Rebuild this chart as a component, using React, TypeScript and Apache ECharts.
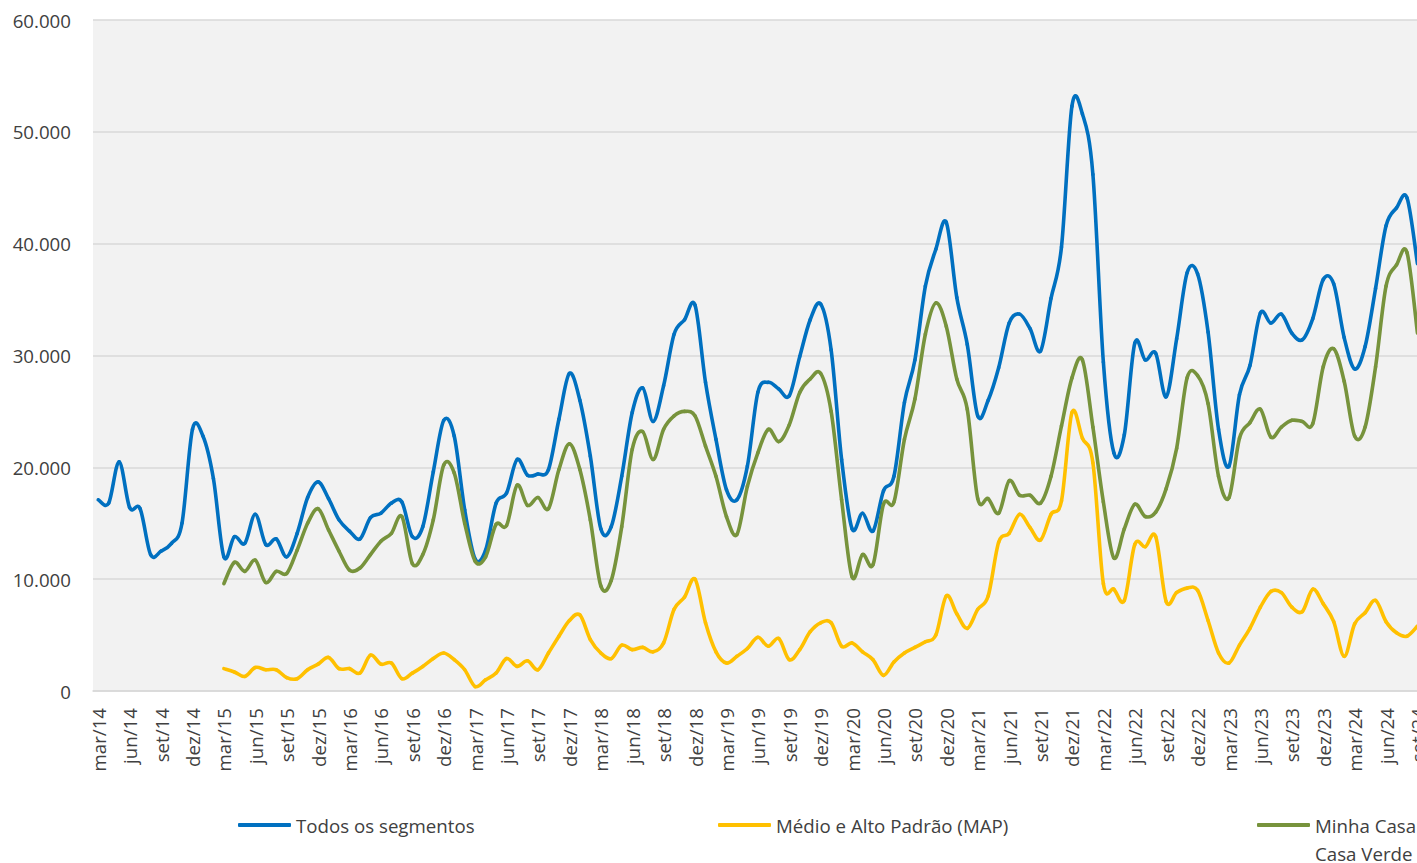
import React, { useEffect, useRef } from "react";
import * as echarts from "echarts";

// Monthly categories (mar/14 .. set/24)
const months: string[] = [
  "mar/14","abr/14","mai/14","jun/14","jul/14","ago/14","set/14","out/14","nov/14","dez/14",
  "jan/15","fev/15","mar/15","abr/15","mai/15","jun/15","jul/15","ago/15","set/15","out/15","nov/15","dez/15",
  "jan/16","fev/16","mar/16","abr/16","mai/16","jun/16","jul/16","ago/16","set/16","out/16","nov/16","dez/16",
  "jan/17","fev/17","mar/17","abr/17","mai/17","jun/17","jul/17","ago/17","set/17","out/17","nov/17","dez/17",
  "jan/18","fev/18","mar/18","abr/18","mai/18","jun/18","jul/18","ago/18","set/18","out/18","nov/18","dez/18",
  "jan/19","fev/19","mar/19","abr/19","mai/19","jun/19","jul/19","ago/19","set/19","out/19","nov/19","dez/19",
  "jan/20","fev/20","mar/20","abr/20","mai/20","jun/20","jul/20","ago/20","set/20","out/20","nov/20","dez/20",
  "jan/21","fev/21","mar/21","abr/21","mai/21","jun/21","jul/21","ago/21","set/21","out/21","nov/21","dez/21",
  "jan/22","fev/22","mar/22","abr/22","mai/22","jun/22","jul/22","ago/22","set/22","out/22","nov/22","dez/22",
  "jan/23","fev/23","mar/23","abr/23","mai/23","jun/23","jul/23","ago/23","set/23","out/23","nov/23","dez/23",
  "jan/24","fev/24","mar/24","abr/24","mai/24","jun/24","jul/24","ago/24","set/24",
];

const seriesNames = [
  "Todos os segmentos",
  "Médio e Alto Padrão (MAP)",
  "Minha Casa Minha Vida / Casa Verde e Amarela",
];

// Todos os segmentos
const todos: (number | null)[] = [
  17100, 16800, 20500, 16400, 16300, 12200, 12500, 13200, 15000, 23400,
  22800, 19000, 12000, 13800, 13200, 15800, 13100, 13600, 12000, 14100, 17300, 18700,
  17200, 15300, 14300, 13600, 15500, 15900, 16800, 16900, 13800, 14700, 19600, 24200,
  22800, 16200, 11800, 12600, 16800, 17700, 20700, 19300, 19400, 19800, 24300, 28400,
  26000, 21000, 14500, 14700, 19200, 24900, 27100, 24100, 27300, 31900, 33200, 34500,
  27600, 22500, 18000, 17100, 20100, 26700, 27600, 27000, 26400, 29900, 33200, 34600,
  30500, 20700, 14500, 15900, 14300, 17900, 19200, 25800, 29600, 36200, 39500, 41900,
  35200, 31000, 24600, 26000, 28900, 32900, 33700, 32400, 30400, 35100, 39700, 52300,
  51600, 46200, 29400, 21300, 22900, 31100, 29600, 30200, 26300, 31500, 37400, 37300,
  32100, 23400, 20100, 26500, 29100, 33800, 32900, 33700, 32000, 31400, 33300, 36800,
  36400, 31600, 28800, 30800, 36000, 41600, 43200, 44100, 38200,
];

// Médio e Alto Padrão (MAP)
const map: (number | null)[] = [
  null, null, null, null, null, null, null, null, null, null,
  null, null, 2000, 1700, 1300, 2100, 1900, 1900, 1200, 1100, 1900, 2400,
  3000, 2000, 2000, 1600, 3200, 2400, 2500, 1100, 1600, 2200, 2900, 3400,
  2800, 1900, 400, 1000, 1600, 2900, 2200, 2700, 1900, 3400, 4900, 6300,
  6800, 4600, 3400, 2900, 4100, 3700, 3900, 3500, 4300, 7300, 8400, 10000,
  6100, 3500, 2500, 3100, 3800, 4800, 4000, 4700, 2800, 3700, 5300, 6100,
  6100, 4000, 4300, 3500, 2800, 1400, 2600, 3400, 3900, 4400, 5000, 8500,
  6900, 5600, 7300, 8500, 13300, 14100, 15800, 14600, 13500, 15800, 17000, 24900,
  22600, 20400, 9600, 9100, 8100, 13100, 12900, 13800, 8000, 8800, 9200, 9000,
  6300, 3400, 2500, 4100, 5600, 7500, 8900, 8800, 7500, 7100, 9100, 7800,
  6200, 3100, 6000, 7000, 8100, 6200, 5200, 4900, 5800,
];

// Minha Casa Minha Vida / Casa Verde e Amarela
const mcmv: (number | null)[] = [
  null, null, null, null, null, null, null, null, null, null,
  null, null, 9600, 11500, 10700, 11700, 9700, 10700, 10500, 12600, 15000, 16300,
  14400, 12500, 10800, 11000, 12200, 13400, 14100, 15600, 11400, 12200, 15300, 20200,
  19500, 15000, 11600, 12000, 14900, 14800, 18400, 16600, 17300, 16300, 19800, 22100,
  19800, 15300, 9400, 9900, 14700, 21600, 23200, 20700, 23400, 24600, 25000, 24600,
  21900, 19200, 15600, 14000, 18300, 21300, 23400, 22300, 23800, 26700, 27900, 28400,
  25000, 17100, 10200, 12200, 11300, 16700, 16900, 22500, 26100, 31900, 34700, 32600,
  27900, 25200, 17200, 17200, 15900, 18800, 17500, 17500, 16800, 19200, 23700, 28000,
  29600, 23600, 16900, 11900, 14500, 16700, 15600, 16000, 18100, 21700, 28000, 28200,
  25700, 19200, 17300, 22600, 24000, 25200, 22700, 23600, 24200, 24100, 23900, 29000,
  30600, 27700, 22800, 23600, 29000, 36200, 38100, 39200, 32000,
];

const seriesColors = ["#0070C0", "#FFC000", "#77933C"];

const FONT = "'Open Sans', 'Noto Sans', sans-serif";
const TEXT_COLOR = "#404040";
const LINE_WIDTH = 3.6;

function fmtThousands(v: number): string {
  return String(Math.round(v)).replace(/\B(?=(\d{3})+(?!\d))/g, ".");
}

// Excel-like smoothed line: each segment i -> i+1 is a cubic Bezier whose
// control points come from the neighbouring values (Catmull-Rom, 1/6).
function smoothLineSeries(name: string, values: (number | null)[], color: string) {
  const segs: [number, number][] = [];
  values.forEach((v, i) => {
    const n = values[i + 1];
    if (v != null && n != null) segs.push([i, v]);
  });
  return {
    name,
    type: "custom",
    coordinateSystem: "cartesian2d",
    encode: { x: 0, y: 1 },
    itemStyle: { color },
    data: segs,
    renderItem: (_params: any, api: any) => {
      const i = api.value(0) as number;
      const v1 = values[i] as number;
      const v2 = values[i + 1] as number;
      const hasPrev = i - 1 >= 0 && values[i - 1] != null;
      const hasNext2 = values[i + 2] != null;
      const p0 = api.coord([hasPrev ? i - 1 : i, hasPrev ? (values[i - 1] as number) : v1]);
      const p1 = api.coord([i, v1]);
      const p2 = api.coord([i + 1, v2]);
      const p3 = api.coord([hasNext2 ? i + 2 : i + 1, hasNext2 ? (values[i + 2] as number) : v2]);
      const k = 1 / 6;
      return {
        type: "bezierCurve",
        shape: {
          x1: p1[0],
          y1: p1[1],
          x2: p2[0],
          y2: p2[1],
          cpx1: p1[0] + (p2[0] - p0[0]) * k,
          cpy1: p1[1] + (p2[1] - p0[1]) * k,
          cpx2: p2[0] - (p3[0] - p1[0]) * k,
          cpy2: p2[1] - (p3[1] - p1[1]) * k,
        },
        style: {
          stroke: color,
          lineWidth: LINE_WIDTH,
          fill: null,
          lineCap: "round",
          lineJoin: "round",
        },
        silent: true,
      };
    },
  };
}

export default function App() {
  const ref = useRef<HTMLDivElement | null>(null);

  useEffect(() => {
    if (!ref.current) return;
    const chart = echarts.init(ref.current, undefined, { renderer: "svg" });
    const legendBase = {
      orient: "horizontal" as const,
      padding: 0,
      icon: "roundRect",
      itemWidth: 53,
      itemHeight: 4,
      textStyle: { fontFamily: FONT, fontSize: 18.7, color: TEXT_COLOR, lineHeight: 28 },
    };
    chart.setOption({
      animation: false,
      backgroundColor: "#ffffff",
      textStyle: { fontFamily: FONT },
      grid: {
        show: true,
        left: 93,
        top: 20,
        width: 1329.7,
        height: 671,
        backgroundColor: "#f2f2f2",
        borderWidth: 0,
        containLabel: false,
      },
      legend: [
        { ...legendBase, data: [seriesNames[0]], left: 238, top: 811 },
        { ...legendBase, data: [seriesNames[1]], left: 718, top: 811 },
        {
          ...legendBase,
          data: [seriesNames[2]],
          left: 1257,
          top: 783,
          // leading empty line keeps the icon level with the first text line
          formatter: (name: string) => "\n" + name.replace(" / ", " /\n"),
        },
      ],
      xAxis: {
        type: "category",
        data: months,
        boundaryGap: true,
        axisLine: { show: true, lineStyle: { color: "#d9d9d9", width: 1.5 } },
        axisTick: { show: false },
        splitLine: { show: false },
        axisLabel: {
          interval: 2,
          rotate: 90,
          margin: 17,
          fontFamily: FONT,
          fontSize: 18.7,
          color: TEXT_COLOR,
        },
      },
      yAxis: {
        type: "value",
        min: 0,
        max: 60000,
        interval: 10000,
        axisLine: { show: false },
        axisTick: { show: false },
        splitLine: { show: true, lineStyle: { color: "#d9d9d9", width: 1.5 } },
        axisLabel: {
          margin: 22,
          fontFamily: FONT,
          fontSize: 18.7,
          color: TEXT_COLOR,
          formatter: (v: number) => fmtThousands(v),
        },
      },
      series: [
        smoothLineSeries(seriesNames[0], todos, seriesColors[0]),
        smoothLineSeries(seriesNames[1], map, seriesColors[1]),
        smoothLineSeries(seriesNames[2], mcmv, seriesColors[2]),
      ],
    });
    return () => chart.dispose();
  }, []);

  return (
    <div
      style={{
        position: "fixed",
        left: 0,
        top: 0,
        width: 1417,
        height: 863,
        overflow: "hidden",
        background: "#ffffff",
      }}
    >
      <div ref={ref} style={{ width: 1500, height: 863 }} />
    </div>
  );
}
